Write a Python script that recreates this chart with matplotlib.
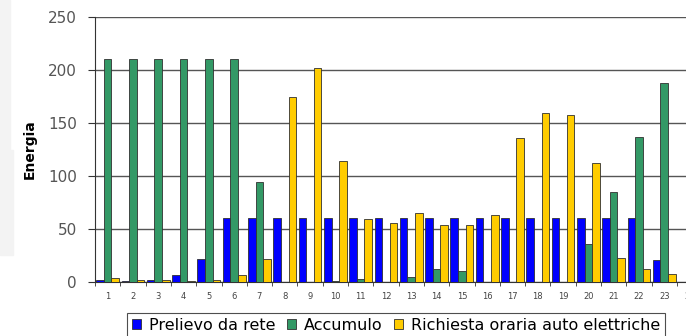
import matplotlib
matplotlib.use("Agg")
import matplotlib.pyplot as plt
import matplotlib.patches as mpatches
import numpy as np

plt.rcParams['font.family'] = ['DejaVu Sans']

# ore del giorno
ore = list(range(1, 25))

# energia prelevata dalla rete
prelievo = [2, 0.5, 1.5, 7, 22, 60, 60, 60, 60, 60, 60, 60, 60, 60, 60, 60,
            60, 60, 60, 60, 60, 60, 21, 0]
# energia nell'accumulo
accumulo = [210, 210, 210, 210, 210, 210, 94, 0, 0, 1, 3, 0, 5, 12, 10, 0,
            0, 0, 0, 36, 85, 137, 188, 0]
# richiesta oraria delle auto elettriche
richiesta = [4, 2, 2, 1, 2, 7, 22, 175, 202, 114, 59, 56, 65, 54, 54, 63,
             136, 159, 158, 112, 23, 12, 8, 0]

W, H = 686, 336
fig = plt.figure(figsize=(W / 100, H / 100), dpi=100)

# ombra grigia sul bordo sinistro
fig.patches.append(mpatches.Rectangle((0, 1 - 150 / H), 10 / W, 150 / H,
                                      transform=fig.transFigure, color="#f3f3f3", zorder=0))
fig.patches.append(mpatches.Rectangle((0, 1 - 255 / H), 13 / W, 105 / H,
                                      transform=fig.transFigure, color="#f3f3f3", zorder=0))

ax = fig.add_axes([95 / W, 54 / H, 24 * 25.3 / W, 265 / H])

x = np.arange(len(ore))
w = 0.3
ax.bar(x - w, prelievo, w, color="#0000ff", edgecolor="#303030", linewidth=0.6,
       label="Prelievo da rete", zorder=3)
ax.bar(x, accumulo, w, color="#339966", edgecolor="#303030", linewidth=0.6,
       label="Accumulo", zorder=3)
ax.bar(x + w, richiesta, w, color="#ffcc00", edgecolor="#303030", linewidth=0.6,
       label="Richiesta oraria auto elettriche", zorder=3)

ax.set_xlim(-0.5, len(ore) - 0.5)
ax.set_ylim(0, 250)
ax.set_yticks([0, 50, 100, 150, 200, 250])
ax.yaxis.grid(True, color="#555555", linewidth=1, zorder=0)
ax.set_axisbelow(True)

ax.set_xticks(x)
ax.set_xticklabels([str(o) for o in ore], fontsize=6, color="#444444")
ax.set_xticks(np.arange(len(ore) + 1) - 0.5, minor=True)
ax.tick_params(axis="x", which="major", length=0, pad=7)
ax.tick_params(axis="x", which="minor", length=3, color="#333333", direction="out")
ax.tick_params(axis="y", length=5, pad=8, color="#333333", labelsize=11,
               labelcolor="#555555")

for s in ["top", "right"]:
    ax.spines[s].set_visible(False)
ax.spines["left"].set_color("#333333")
ax.spines["bottom"].set_color("#333333")

ax.set_ylabel("Energia", fontsize=10, fontweight="bold", labelpad=8)

leg = fig.legend(loc="upper left", bbox_to_anchor=(127 / W, 23 / H), ncol=3,
                 fontsize=11.5, frameon=True, fancybox=False, edgecolor="#222222",
                 handlelength=0.55, handleheight=0.55, handletextpad=0.5,
                 columnspacing=0.75, borderpad=0.3, borderaxespad=0)
leg.get_frame().set_linewidth(0.8)

fig.savefig("out.png", dpi=100)
